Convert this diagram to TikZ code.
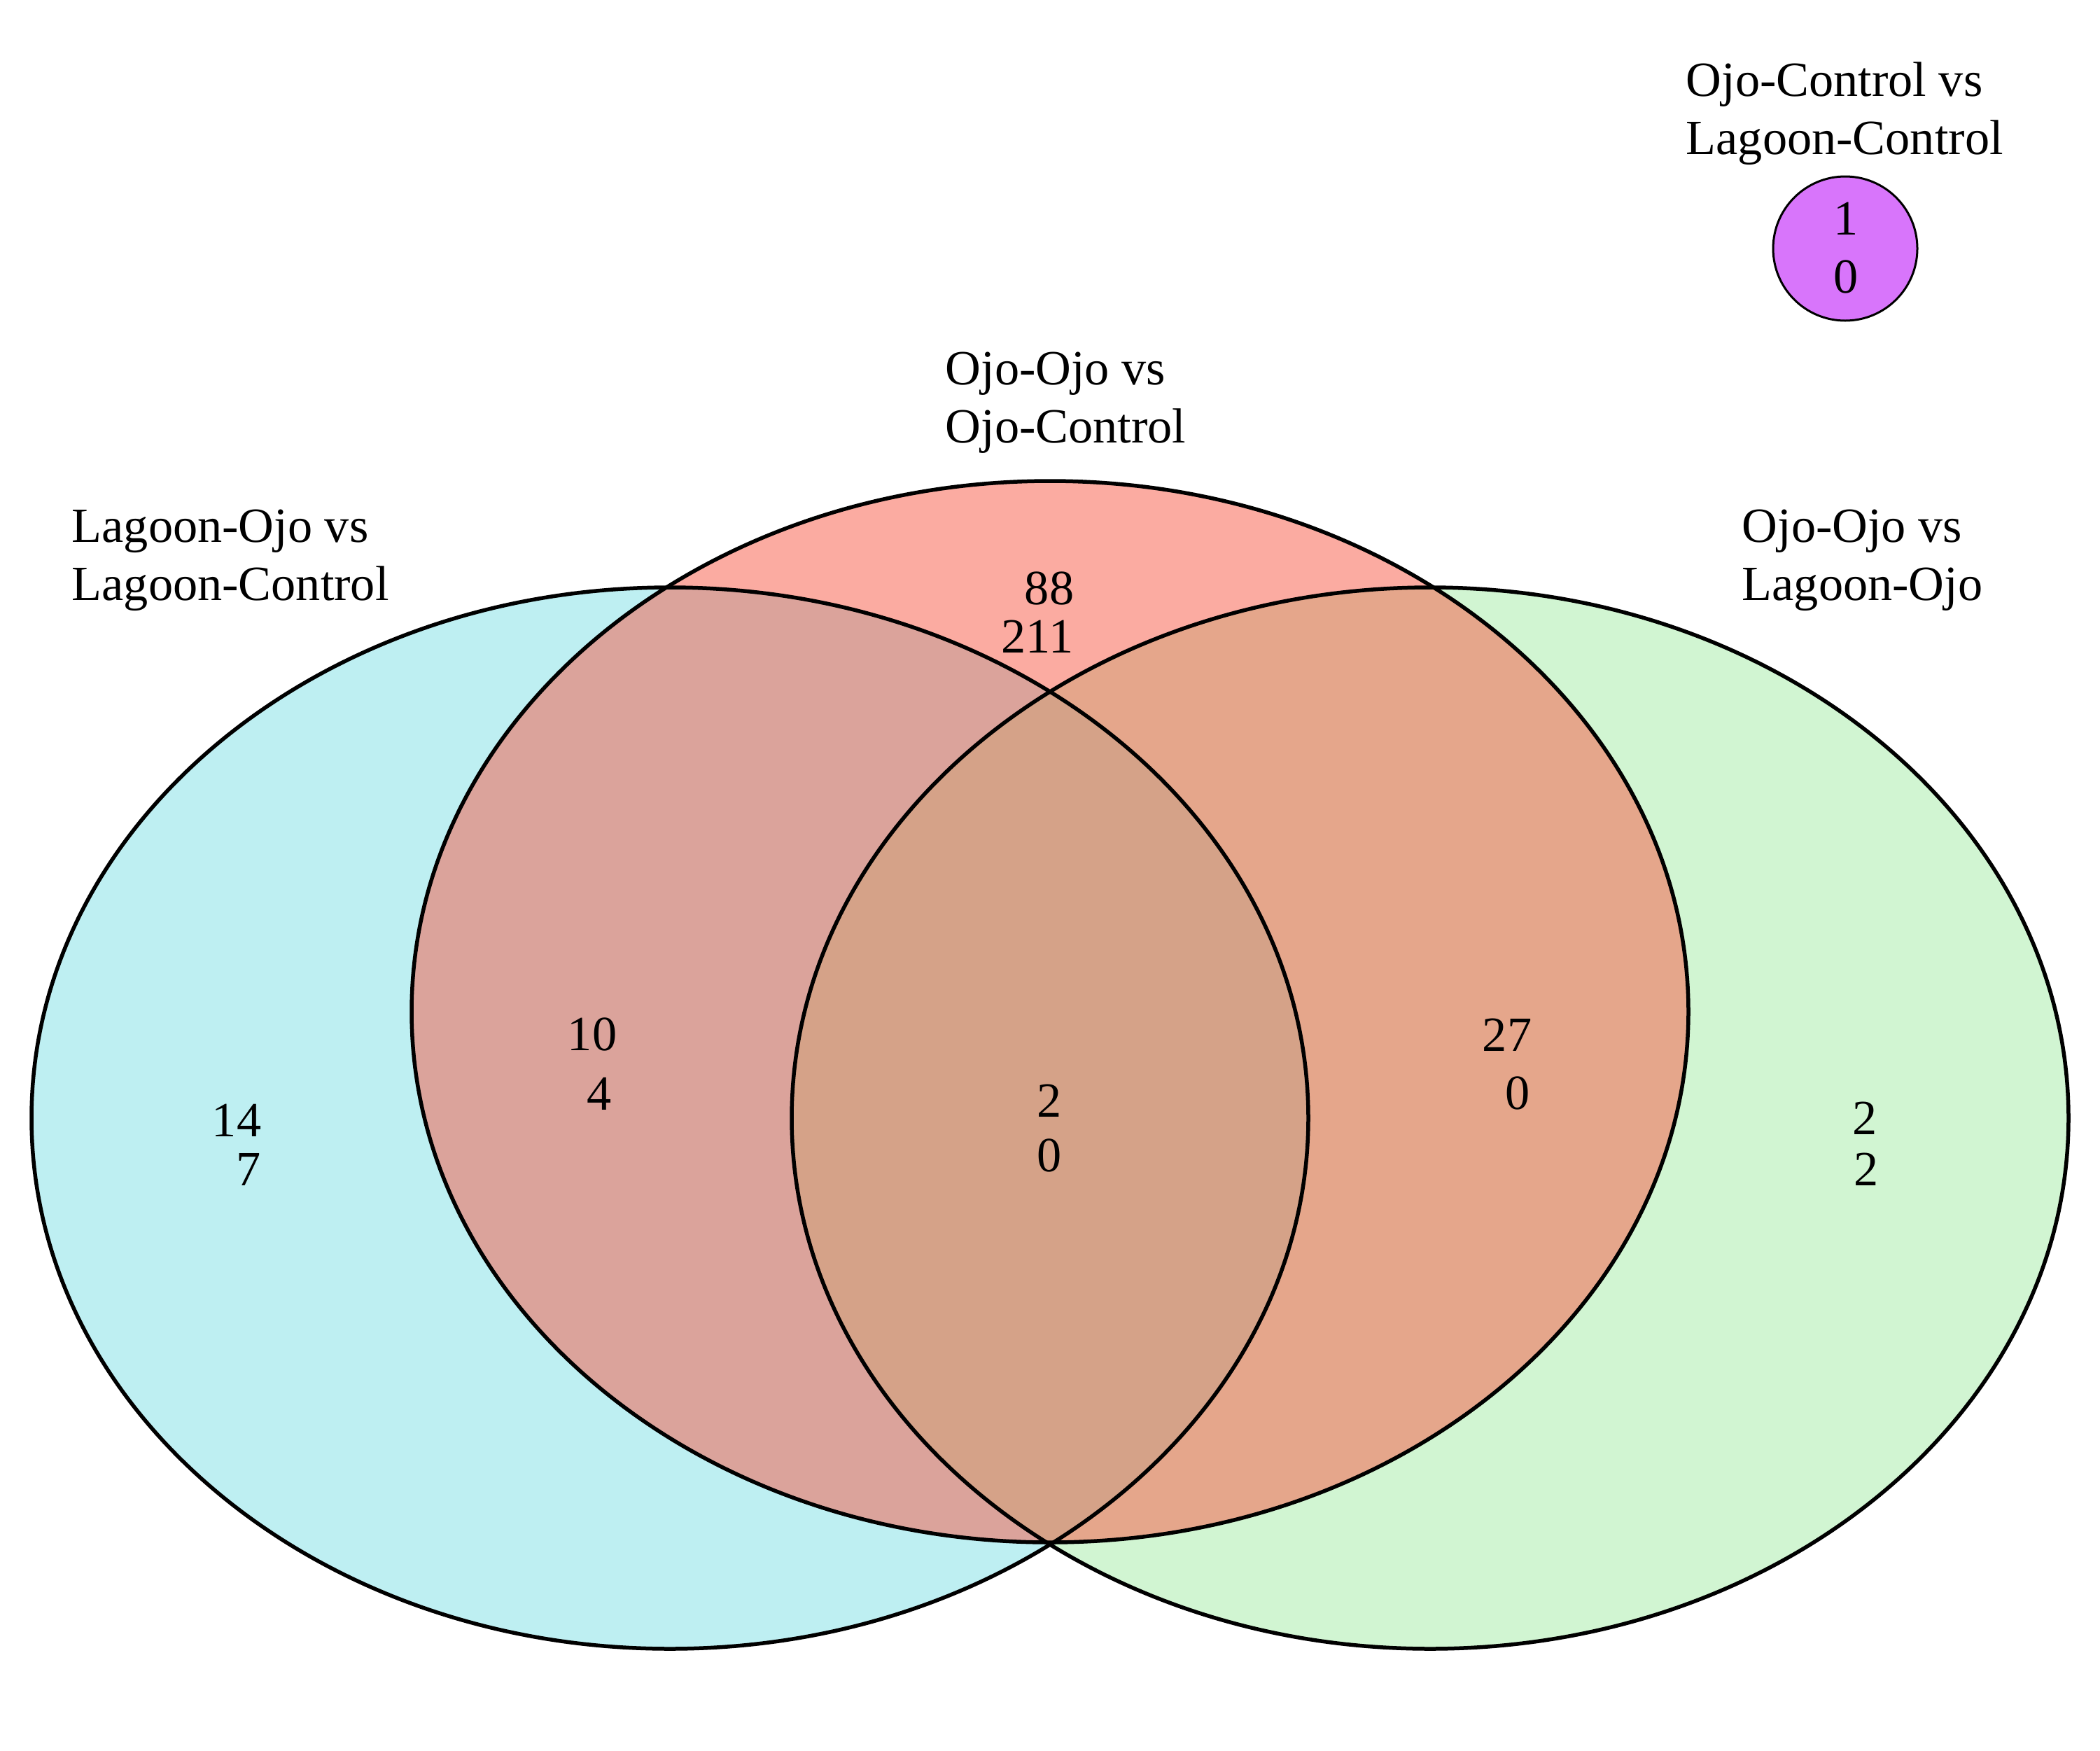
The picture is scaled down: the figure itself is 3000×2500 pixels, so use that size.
\documentclass[tikz,border=0pt]{standalone}
\usepackage{fontspec}
\setmainfont{Liberation Serif}
\definecolor{cL}{RGB}{127,225,231}
\definecolor{cR}{RGB}{165,237,167}
\definecolor{cM}{RGB}{249,89,69}
\definecolor{cP}{RGB}{216,117,251}
\begin{document}
\begin{tikzpicture}[x=0.1mm,y=-0.1mm,
  setfill/.style={fill opacity=0.5},
  outline/.style={draw=black,line width=0.55mm},
  bigell/.style={x radius=91.2mm,y radius=75.8mm},
  lab/.style={font=\fontsize{20}{23.5}\selectfont,inner sep=0,align=left,anchor=base west},
  num/.style={font=\fontsize{20}{23.5}\selectfont,inner sep=0,anchor=base}]
\fill[white] (0,0) rectangle (3000,2500);
\useasboundingbox (0,0) rectangle (3000,2500);
\coordinate (cl) at (957,1597);
\coordinate (cm) at (1500,1445);
\coordinate (cr) at (2043,1597);
% fills
\fill[cL,setfill] (cl) ellipse [bigell];
\fill[cR,setfill] (cr) ellipse [bigell];
\fill[cM,setfill] (cm) ellipse [bigell];
% outlines
\draw[outline] (cl) ellipse [bigell];
\draw[outline] (cr) ellipse [bigell];
\draw[outline] (cm) ellipse [bigell];
% separate set
\node[circle,draw=black,fill=cP,line width=0.3mm,minimum size=20.6mm,inner sep=0] (P) at (2636,355) {};
% set labels (anchor = baseline of last line)
\node[lab] (labL) at (102,857) {Lagoon-Ojo vs\\Lagoon-Control};
\node[lab] (labM) at (1350,632) {Ojo-Ojo vs\\Ojo-Control};
\node[lab] (labR) at (2488,857) {Ojo-Ojo vs\\Lagoon-Ojo};
\node[lab] (labP) at (2408,220) {Ojo-Control vs\\Lagoon-Control};
% counts
\node[num] (m1) at (1499,863) {88};
\node[num] (m2) at (1482,932) {211};
\node[num] (lm1) at (846,1500) {10};
\node[num] (lm2) at (856,1585) {4};
\node[num] (l1) at (338,1623) {14};
\node[num] (l2) at (355,1693) {7};
\node[num] (a1) at (1499,1595) {2};
\node[num] (a2) at (1499,1673) {0};
\node[num] (mr1) at (2153,1501) {27};
\node[num] (mr2) at (2168,1584) {0};
\node[num] (r1) at (2664,1620) {2};
\node[num] (r2) at (2666,1693) {2};
\node[num] (p1) at (2637,335) {1};
\node[num] (p2) at (2637,418) {0};
\end{tikzpicture}
\end{document}
